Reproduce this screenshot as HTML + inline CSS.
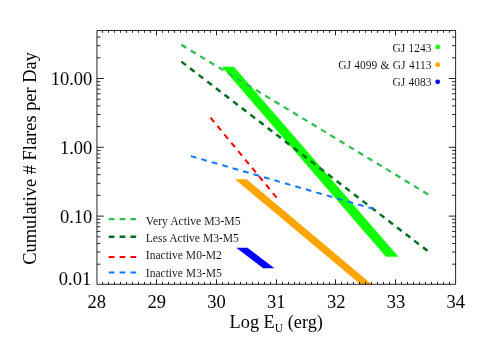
<!DOCTYPE html>
<html><head><meta charset="utf-8"><style>html,body{margin:0;padding:0;background:#fff;}svg{display:block;will-change:transform;}text.sm{stroke:#fff;stroke-width:0.08px;}text{font-family:"Liberation Serif",serif;fill:#000;}</style></head><body>
<svg width="485" height="346" viewBox="0 0 485 346">
<rect width="485" height="346" fill="#fff"/>
<polygon points="221.7,66.8 233.9,66.8 398.5,256.8 385.9,256.8" fill="#10ff04"/>
<polygon points="235.0,179.3 246.6,179.3 371.7,284.3 360.4,284.3" fill="#ffa500"/>
<polygon points="236.2,247.7 247.4,247.7 274.5,268.2 263.2,268.2" fill="#0000ff"/>
<line x1="181.4" y1="44.8" x2="428.6" y2="194.7" stroke="#2ebd4e" stroke-width="2.2" stroke-dasharray="5.8 5.08"/>
<line x1="181.4" y1="61.6" x2="429.2" y2="252.1" stroke="#006e1e" stroke-width="2.45" stroke-dasharray="5.8 5.08"/>
<line x1="210.5" y1="117.6" x2="277" y2="198" stroke="#ff0000" stroke-width="2" stroke-dasharray="5.8 5.08"/>
<line x1="190.8" y1="156.1" x2="373.5" y2="208.9" stroke="#0f78ff" stroke-width="2" stroke-dasharray="5.8 5.08"/>
<line x1="108.7" y1="219.1" x2="136.2" y2="219.1" stroke="#2ebd4e" stroke-width="2.2" stroke-dasharray="5.8 5.05"/>
<line x1="108.7" y1="236.7" x2="136.2" y2="236.7" stroke="#006e1e" stroke-width="2.6" stroke-dasharray="5.8 5.05"/>
<line x1="108.7" y1="257.1" x2="136.2" y2="257.1" stroke="#ff0000" stroke-width="2" stroke-dasharray="5.8 5.05"/>
<line x1="108.7" y1="272.4" x2="136.2" y2="272.4" stroke="#0f78ff" stroke-width="2" stroke-dasharray="5.8 5.05"/>
<path d="M96.95 30.5H455.6V284.3H96.95ZM102.50 284.3v-2.4M102.50 30.5v2.4M108.50 284.3v-2.4M108.50 30.5v2.4M114.50 284.3v-2.4M114.50 30.5v2.4M120.50 284.3v-2.4M120.50 30.5v2.4M126.50 284.3v-2.4M126.50 30.5v2.4M132.50 284.3v-2.4M132.50 30.5v2.4M138.50 284.3v-2.4M138.50 30.5v2.4M144.50 284.3v-2.4M144.50 30.5v2.4M150.50 284.3v-2.4M150.50 30.5v2.4M156.50 284.3v-5.0M156.50 30.5v5.0M162.50 284.3v-2.4M162.50 30.5v2.4M168.50 284.3v-2.4M168.50 30.5v2.4M174.50 284.3v-2.4M174.50 30.5v2.4M180.50 284.3v-2.4M180.50 30.5v2.4M186.50 284.3v-2.4M186.50 30.5v2.4M192.50 284.3v-2.4M192.50 30.5v2.4M198.50 284.3v-2.4M198.50 30.5v2.4M204.50 284.3v-2.4M204.50 30.5v2.4M210.50 284.3v-2.4M210.50 30.5v2.4M216.50 284.3v-5.0M216.50 30.5v5.0M222.50 284.3v-2.4M222.50 30.5v2.4M228.50 284.3v-2.4M228.50 30.5v2.4M234.50 284.3v-2.4M234.50 30.5v2.4M240.50 284.3v-2.4M240.50 30.5v2.4M246.50 284.3v-2.4M246.50 30.5v2.4M252.50 284.3v-2.4M252.50 30.5v2.4M258.50 284.3v-2.4M258.50 30.5v2.4M264.50 284.3v-2.4M264.50 30.5v2.4M270.50 284.3v-2.4M270.50 30.5v2.4M276.50 284.3v-5.0M276.50 30.5v5.0M282.50 284.3v-2.4M282.50 30.5v2.4M288.50 284.3v-2.4M288.50 30.5v2.4M294.50 284.3v-2.4M294.50 30.5v2.4M299.50 284.3v-2.4M299.50 30.5v2.4M305.50 284.3v-2.4M305.50 30.5v2.4M311.50 284.3v-2.4M311.50 30.5v2.4M317.50 284.3v-2.4M317.50 30.5v2.4M323.50 284.3v-2.4M323.50 30.5v2.4M329.50 284.3v-2.4M329.50 30.5v2.4M335.50 284.3v-5.0M335.50 30.5v5.0M341.50 284.3v-2.4M341.50 30.5v2.4M347.50 284.3v-2.4M347.50 30.5v2.4M353.50 284.3v-2.4M353.50 30.5v2.4M359.50 284.3v-2.4M359.50 30.5v2.4M365.50 284.3v-2.4M365.50 30.5v2.4M371.50 284.3v-2.4M371.50 30.5v2.4M377.50 284.3v-2.4M377.50 30.5v2.4M383.50 284.3v-2.4M383.50 30.5v2.4M389.50 284.3v-2.4M389.50 30.5v2.4M395.50 284.3v-5.0M395.50 30.5v5.0M401.50 284.3v-2.4M401.50 30.5v2.4M407.50 284.3v-2.4M407.50 30.5v2.4M413.50 284.3v-2.4M413.50 30.5v2.4M419.50 284.3v-2.4M419.50 30.5v2.4M425.50 284.3v-2.4M425.50 30.5v2.4M431.50 284.3v-2.4M431.50 30.5v2.4M437.50 284.3v-2.4M437.50 30.5v2.4M443.50 284.3v-2.4M443.50 30.5v2.4M449.50 284.3v-2.4M449.50 30.5v2.4M96.95 264.19h3.5M455.6 264.19h-3.5M96.95 252.07h3.5M455.6 252.07h-3.5M96.95 243.48h3.5M455.6 243.48h-3.5M96.95 236.81h3.5M455.6 236.81h-3.5M96.95 231.36h3.5M455.6 231.36h-3.5M96.95 226.76h3.5M455.6 226.76h-3.5M96.95 222.77h3.5M455.6 222.77h-3.5M96.95 219.25h3.5M455.6 219.25h-3.5M96.95 216.10h6.9M455.6 216.10h-6.9M96.95 195.39h3.5M455.6 195.39h-3.5M96.95 183.27h3.5M455.6 183.27h-3.5M96.95 174.68h3.5M455.6 174.68h-3.5M96.95 168.01h3.5M455.6 168.01h-3.5M96.95 162.56h3.5M455.6 162.56h-3.5M96.95 157.96h3.5M455.6 157.96h-3.5M96.95 153.97h3.5M455.6 153.97h-3.5M96.95 150.45h3.5M455.6 150.45h-3.5M96.95 147.30h6.9M455.6 147.30h-6.9M96.95 126.59h3.5M455.6 126.59h-3.5M96.95 114.47h3.5M455.6 114.47h-3.5M96.95 105.88h3.5M455.6 105.88h-3.5M96.95 99.21h3.5M455.6 99.21h-3.5M96.95 93.76h3.5M455.6 93.76h-3.5M96.95 89.16h3.5M455.6 89.16h-3.5M96.95 85.17h3.5M455.6 85.17h-3.5M96.95 81.65h3.5M455.6 81.65h-3.5M96.95 78.50h6.9M455.6 78.50h-6.9M96.95 57.79h3.5M455.6 57.79h-3.5M96.95 45.67h3.5M455.6 45.67h-3.5M96.95 37.08h3.5M455.6 37.08h-3.5" fill="none" stroke="#000" stroke-width="0.85"/>
<text x="92.3" y="85.1" font-size="18.5" text-anchor="end">10.00</text>
<text x="92.3" y="154.2" font-size="18.5" text-anchor="end">1.00</text>
<text x="92.3" y="222.8" font-size="18.5" text-anchor="end">0.10</text>
<text x="91.2" y="285.0" font-size="18.5" text-anchor="end">0.01</text>
<text x="96.87" y="308.2" font-size="18.5" text-anchor="middle">28</text>
<text x="156.70" y="308.2" font-size="18.5" text-anchor="middle">29</text>
<text x="216.53" y="308.2" font-size="18.5" text-anchor="middle">30</text>
<text x="276.36" y="308.2" font-size="18.5" text-anchor="middle">31</text>
<text x="336.19" y="308.2" font-size="18.5" text-anchor="middle">32</text>
<text x="396.02" y="308.2" font-size="18.5" text-anchor="middle">33</text>
<text x="455.85" y="308.2" font-size="18.5" text-anchor="middle">34</text>
<text x="229.6" y="327.7" font-size="18.3">Log E<tspan font-size="11.6" dy="3.8">U</tspan><tspan dy="-3.8"> (erg)</tspan></text>
<text transform="translate(36.3,158.4) rotate(-90)" font-size="18.42" text-anchor="middle">Cumulative # Flares per Day</text>
<text class="sm" x="431.4" y="52.0" font-size="11.45" word-spacing="0.5" text-anchor="end">GJ 1243</text>
<text class="sm" x="431.4" y="69.3" font-size="11.45" word-spacing="0.5" text-anchor="end">GJ 4099 &amp; GJ 4113</text>
<text class="sm" x="431.4" y="86.4" font-size="11.45" word-spacing="0.5" text-anchor="end">GJ 4083</text>
<circle cx="437.7" cy="46.9" r="2.4" fill="#10ff04"/>
<circle cx="437.7" cy="64.7" r="2.4" fill="#ffa500"/>
<circle cx="437.7" cy="81.8" r="2.4" fill="#0000ff"/>
<text class="sm" x="145.8" y="224.6" font-size="11.7">Very Active M3-M5</text>
<text class="sm" x="145.8" y="241.8" font-size="11.56">Less Active M3-M5</text>
<text class="sm" x="145.8" y="259.2" font-size="11.55">Inactive M0-M2</text>
<text class="sm" x="145.8" y="276.5" font-size="11.55">Inactive M3-M5</text>
</svg></body></html>
